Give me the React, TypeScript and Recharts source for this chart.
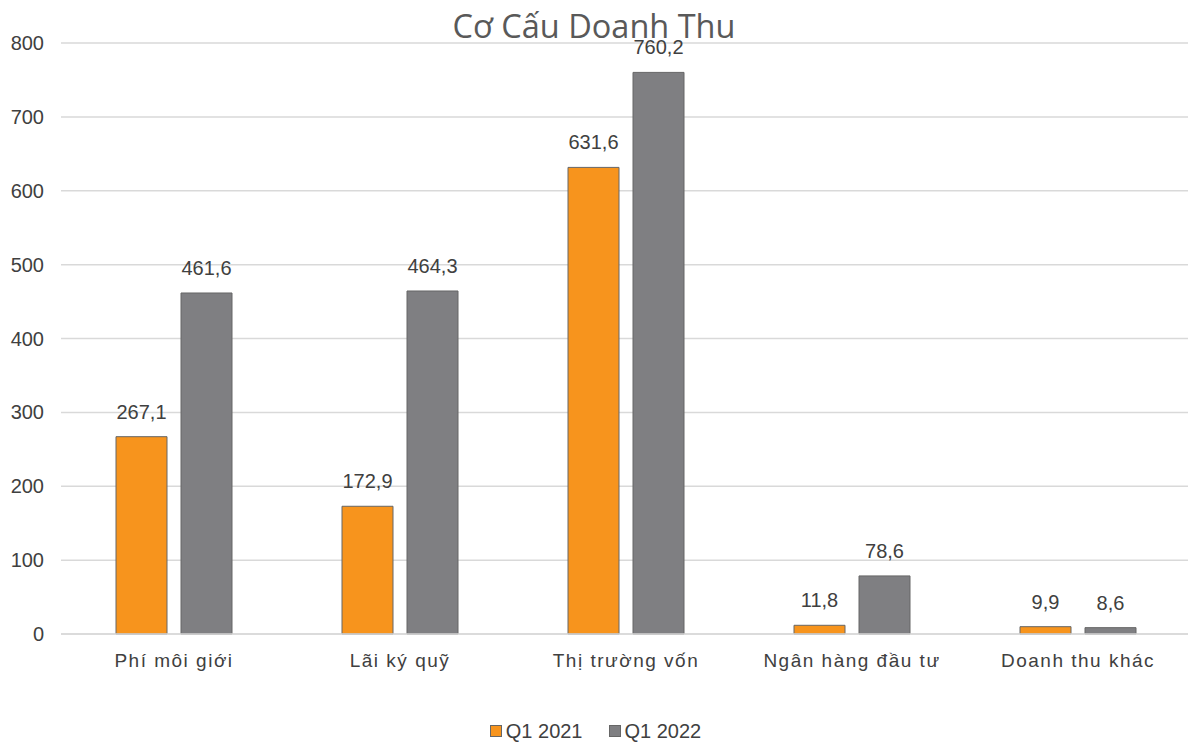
import React from "react";
import {
  BarChart,
  Bar,
  XAxis,
  YAxis,
  CartesianGrid,
  Legend,
  LabelList,
} from "recharts";

const categories = [
  "Phí môi giới",
  "Lãi ký quỹ",
  "Thị trường vốn",
  "Ngân hàng đầu tư",
  "Doanh thu khác",
];
const q1_2021 = [267.1, 172.9, 631.6, 11.8, 9.9];
const q1_2022 = [461.6, 464.3, 760.2, 78.6, 8.6];
const yTicks = [0, 100, 200, 300, 400, 500, 600, 700, 800];

const ORANGE = "#F7941D";
const GRAY = "#7F7F82";
const TEXT = "#404040";
const FONT = "'Liberation Sans', Arial, sans-serif";

const data = categories.map((name, i) => ({
  name,
  q2021: q1_2021[i],
  q2022: q1_2022[i],
}));

const fmt = (v: number) => v.toFixed(1).replace(".", ",");

const LegendBox = () => (
  <div
    style={{
      height: 48,
      display: "flex",
      justifyContent: "center",
      alignItems: "flex-end",
      boxSizing: "border-box",
      fontFamily: FONT,
      fontSize: 20,
      color: TEXT,
    }}
  >
    {[
      { label: "Q1 2021", color: ORANGE },
      { label: "Q1 2022", color: GRAY },
    ].map((it) => (
      <span
        key={it.label}
        style={{ display: "inline-flex", alignItems: "center", margin: "0 13px", lineHeight: "22px" }}
      >
        <span
          style={{
            width: 10,
            height: 10,
            background: it.color,
            border: "1px solid #666",
            marginRight: 4,
            display: "inline-block",
          }}
        />
        {it.label}
      </span>
    ))}
  </div>
);

export default function App() {
  return (
    <div style={{ position: "absolute", left: 0, top: 0, width: 1188, height: 742, background: "#fff", overflow: "hidden" }}>
      <div
        style={{
          position: "absolute",
          top: 3,
          left: 0,
          width: 1188,
          textAlign: "center",
          fontFamily: "'Open Sans', 'Noto Sans', sans-serif",
          fontSize: 32.5,
          color: "#595959",
          zIndex: 2,
        }}
      >
        Cơ Cấu Doanh Thu
      </div>
      <BarChart
        width={1188}
        height={742}
        data={data}
        margin={{ top: 43, right: -3, bottom: 0, left: 0 }}
        barGap={14}
        barSize={51}
      >
        <CartesianGrid vertical={false} stroke="#d9d9d9" strokeWidth={1.5} />
        <XAxis
          dataKey="name"
          height={60}
          tickLine={false}
          axisLine={{ stroke: "#d9d9d9", strokeWidth: 1.5 }}
          tickMargin={14}
          tick={{ fill: TEXT, fontSize: 19, fontFamily: FONT, letterSpacing: 1.5 }}
          interval={0}
        />
        <YAxis
          width={61}
          domain={[0, 800]}
          ticks={yTicks}
          axisLine={false}
          tickLine={false}
          tickMargin={11}
          tick={{ fill: TEXT, fontSize: 20, fontFamily: FONT }}
        />
        <Legend verticalAlign="bottom" content={<LegendBox />} wrapperStyle={{ bottom: 0 }} />
        <Bar dataKey="q2021" name="Q1 2021" fill={ORANGE} stroke="#666" strokeWidth={1} isAnimationActive={false}>
          <LabelList
            dataKey="q2021"
            position="top"
            offset={18}
            formatter={(v: number) => fmt(v)}
            style={{ fill: TEXT, fontSize: 20, fontFamily: FONT }}
          />
        </Bar>
        <Bar dataKey="q2022" name="Q1 2022" fill={GRAY} stroke="#666" strokeWidth={1} isAnimationActive={false}>
          <LabelList
            dataKey="q2022"
            position="top"
            offset={18}
            formatter={(v: number) => fmt(v)}
            style={{ fill: TEXT, fontSize: 20, fontFamily: FONT }}
          />
        </Bar>
      </BarChart>
    </div>
  );
}
